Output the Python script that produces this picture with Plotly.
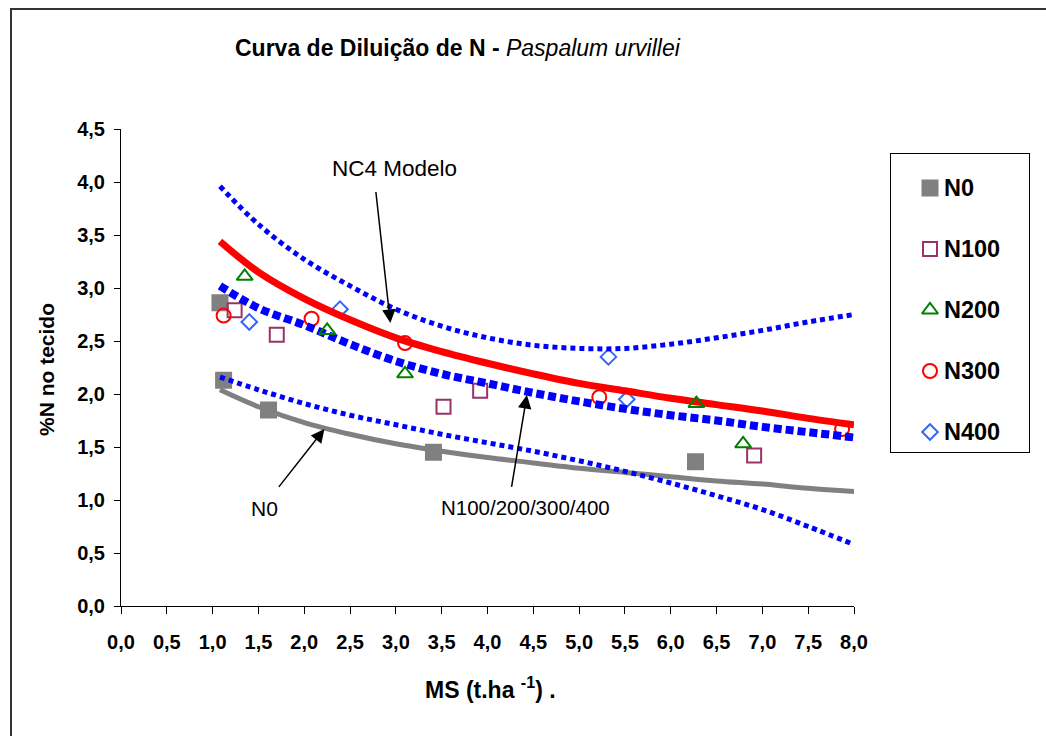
import plotly.graph_objects as go

W, H = 1046, 736


def px(x):
    return x / W


def py(y):
    return 1 - y / H


# plot area edges in pixels
PL, PR, PT, PB = 121, 854, 129, 606
# legend box edges in pixels
LL, LR, LT, LB = 891, 1029, 154, 452

FONT = "Liberation Sans, Arial, sans-serif"

# fitted curves, read along MS (t/ha)
ms_curve = [1.08, 1.5, 2.0, 2.5, 3.0, 3.5, 4.0, 4.5, 5.0, 5.5, 6.0, 6.5, 7.0, 7.5, 8.0]
nc4_modelo = [3.44, 3.15, 2.90, 2.70, 2.53, 2.40, 2.29, 2.19, 2.10, 2.03, 1.96, 1.90, 1.84, 1.77, 1.71]
ajuste_n100_400 = [3.02, 2.81, 2.65, 2.47, 2.31, 2.19, 2.10, 2.01, 1.93, 1.86, 1.80, 1.75, 1.69, 1.64, 1.59]
limite_sup = [3.96, 3.60, 3.27, 3.02, 2.80, 2.64, 2.53, 2.46, 2.43, 2.43, 2.47, 2.53, 2.60, 2.68, 2.75]
limite_inf = [2.16, 2.04, 1.91, 1.80, 1.71, 1.62, 1.54, 1.46, 1.37, 1.27, 1.16, 1.04, 0.91, 0.75, 0.58]
ajuste_n0 = [2.04, 1.88, 1.73, 1.62, 1.53, 1.46, 1.40, 1.35, 1.30, 1.26, 1.22, 1.18, 1.15, 1.11, 1.08]

# observed points per N dose
n0_ms = [1.08, 1.12, 1.61, 3.41, 6.27]
n0_n = [2.86, 2.13, 1.85, 1.45, 1.36]
n100_ms = [1.24, 1.70, 3.52, 3.92, 6.91]
n100_n = [2.79, 2.56, 1.88, 2.03, 1.42]
n200_ms = [1.35, 2.25, 3.10, 6.28, 6.79]
n200_n = [3.11, 2.60, 2.19, 1.91, 1.53]
n300_ms = [1.12, 2.08, 3.10, 5.22, 7.87]
n300_n = [2.74, 2.71, 2.48, 1.97, 1.67]
n400_ms = [1.40, 2.39, 5.32, 5.52]
n400_n = [2.68, 2.80, 2.35, 1.95]

serie_nomes = ["N0", "N100", "N200", "N300", "N400"]
serie_cores = ["#808080", "#993366", "#008000", "#FF0000", "#3366FF"]
serie_simbolos = ["square", "square-open", "triangle-up-open", "circle-open", "diamond-open"]
serie_tamanhos = [15, 14, 14, 14, 12]

x_ticks = [0.0, 0.5, 1.0, 1.5, 2.0, 2.5, 3.0, 3.5, 4.0, 4.5, 5.0, 5.5, 6.0, 6.5, 7.0, 7.5, 8.0]
y_ticks = [0.0, 0.5, 1.0, 1.5, 2.0, 2.5, 3.0, 3.5, 4.0, 4.5]

fig = go.Figure()


def pontos(ms, n, i):
    fig.add_trace(go.Scatter(
        x=ms, y=n, mode="markers", name=serie_nomes[i], showlegend=False,
        marker=dict(symbol=serie_simbolos[i], size=serie_tamanhos[i],
                    color=serie_cores[i],
                    line=dict(color=serie_cores[i], width=2)),
    ))


pontos(n0_ms, n0_n, 0)
pontos(n100_ms, n100_n, 1)
pontos(n300_ms, n300_n, 3)
pontos(n400_ms, n400_n, 4)

# N0 fit
fig.add_trace(go.Scatter(x=ms_curve, y=ajuste_n0, mode="lines", showlegend=False,
                         line=dict(color="#808080", width=5, shape="spline")))
# confidence limits
for lim in (limite_inf, limite_sup):
    fig.add_trace(go.Scatter(x=ms_curve, y=lim, mode="lines", showlegend=False,
                             line=dict(color="#0000FF", width=5, dash="5px,4px",
                                       shape="spline")))
# N100-400 fit
fig.add_trace(go.Scatter(x=ms_curve, y=ajuste_n100_400, mode="lines", showlegend=False,
                         line=dict(color="#0000FF", width=8, dash="8px,4px",
                                   shape="spline")))
# NC4 model
fig.add_trace(go.Scatter(x=ms_curve, y=nc4_modelo, mode="lines", showlegend=False,
                         line=dict(color="#FF0000", width=7, shape="spline")))

pontos(n200_ms, n200_n, 2)

# legend entries drawn on their own axes (units are pixels inside the box)
leg_y = [34, 95, 156, 217, 278]
for i, nome in enumerate(serie_nomes):
    fig.add_trace(go.Scatter(
        x=[39], y=[leg_y[i]], xaxis="x2", yaxis="y2", mode="markers",
        showlegend=False, hoverinfo="skip",
        marker=dict(symbol=serie_simbolos[i], size=serie_tamanhos[i],
                    color=serie_cores[i], line=dict(color=serie_cores[i], width=2)),
    ))
    fig.add_annotation(x=51, y=leg_y[i], xref="x2", yref="y2", text=f"<b>{nome}</b>",
                       showarrow=False, xanchor="left", yanchor="middle",
                       font=dict(family=FONT, size=23.5, color="#000000"))

axis_font = dict(family=FONT, size=20, color="#000000", weight="bold")

fig.update_layout(
    template="none",
    width=W, height=H, autosize=False,
    margin=dict(l=0, r=0, t=0, b=0, pad=0, autoexpand=False),
    paper_bgcolor="#FFFFFF", plot_bgcolor="#FFFFFF",
    separators=",.",
    showlegend=False,
    xaxis=dict(
        domain=[px(PL), px(PR)], range=[0, 8], autorange=False, automargin=False,
        tickvals=x_ticks, tickformat=".1f", tickfont=axis_font,
        ticks="outside", ticklen=7, tickcolor="#000000", tickwidth=1,
        showline=True, linecolor="#000000", linewidth=1,
        showgrid=False, zeroline=False, ticklabelstandoff=11,
    ),
    yaxis=dict(
        domain=[py(PB), py(PT)], range=[0, 4.5], autorange=False, automargin=False,
        tickvals=y_ticks, tickformat=".1f", tickfont=axis_font,
        ticks="outside", ticklen=6, tickcolor="#000000", tickwidth=1,
        showline=True, linecolor="#000000", linewidth=1,
        showgrid=False, zeroline=False, ticklabelstandoff=5,
    ),
    xaxis2=dict(
        domain=[px(LL), px(LR)], range=[0, LR - LL], autorange=False, automargin=False,
        anchor="y2", showline=True, mirror=True, linecolor="#000000", linewidth=1,
        showticklabels=False, ticks="", showgrid=False, zeroline=False,
    ),
    yaxis2=dict(
        domain=[py(LB), py(LT)], range=[LB - LT, 0], autorange=False, automargin=False,
        anchor="x2", showline=True, mirror=True, linecolor="#000000", linewidth=1,
        showticklabels=False, ticks="", showgrid=False, zeroline=False,
    ),
    # outer chart frame (left and top edges fall inside the page)
    shapes=[
        dict(type="line", xref="paper", yref="paper", x0=px(11), x1=px(11),
             y0=0, y1=py(8), line=dict(color="#333333", width=2)),
        dict(type="line", xref="paper", yref="paper", x0=px(10), x1=1,
             y0=py(9), y1=py(9), line=dict(color="#333333", width=2)),
    ],
)

# title
fig.add_annotation(x=px(458), y=py(48), xref="paper", yref="paper",
                   text="<b>Curva de Diluição de N - </b><i>Paspalum urvillei</i>",
                   showarrow=False, xanchor="center", yanchor="middle",
                   font=dict(family=FONT, size=23, color="#000000"))
# axis titles
fig.add_annotation(x=px(47), y=py(370), xref="paper", yref="paper",
                   text="<b>%N no tecido</b>", textangle=-90, showarrow=False,
                   xanchor="center", yanchor="middle",
                   font=dict(family=FONT, size=21, color="#000000"))
fig.add_annotation(x=px(490), y=py(688), xref="paper", yref="paper",
                   text="<b>MS (t.ha <sup>-1</sup>) .</b>", showarrow=False,
                   xanchor="center", yanchor="middle",
                   font=dict(family=FONT, size=23, color="#000000"))

# curve labels with arrows
rotulos = [("NC4 Modelo", 2.98, 4.13, 22.5),
           ("N0", 1.57, 0.92, 21),
           ("N100/200/300/400", 4.42, 0.93, 20.5)]
for txt, rx, ry, fs in rotulos:
    fig.add_annotation(x=rx, y=ry, xref="x", yref="y", text=txt, showarrow=False,
                       xanchor="center", yanchor="middle",
                       font=dict(family=FONT, size=fs, color="#000000"))

setas = [((2.94, 2.67), (2.78, 3.92)),
         ((2.22, 1.67), (1.71, 1.11)),
         ((4.43, 1.99), (4.26, 1.11))]
for (tx, ty), (sx, sy) in setas:
    fig.add_annotation(x=tx, y=ty, ax=sx, ay=sy, xref="x", yref="y",
                       axref="x", ayref="y", text="", showarrow=True,
                       arrowhead=2, arrowsize=1.8, arrowwidth=1.5,
                       arrowcolor="#000000", standoff=0)

fig.write_html("out.html")
